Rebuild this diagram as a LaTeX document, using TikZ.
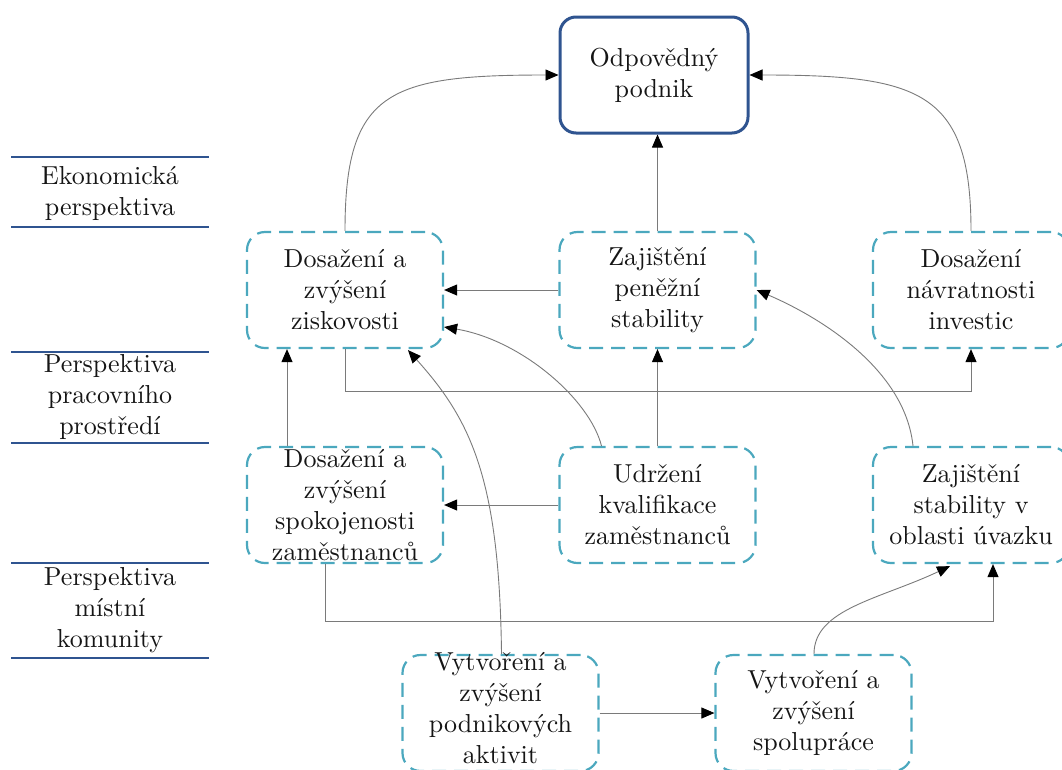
\documentclass[tikz,border=0pt]{standalone}
\usepackage{fontspec}
\setmainfont{lmroman10-regular}[Extension=.otf]
\usetikzlibrary{arrows.meta,calc}
\definecolor{dblue}{HTML}{2F5490}
\definecolor{tealc}{HTML}{4BA8BE}
\definecolor{connc}{HTML}{7A7A7A}
\definecolor{txtc}{HTML}{151515}
\begin{document}
\begin{tikzpicture}[x=1pt,y=-1pt,
  every node/.style={text=txtc, font=\fontsize{26}{31}\selectfont, align=center},
  goal/.style={draw=tealc, line width=2.2pt, dash pattern=on 14pt off 8pt,
    rounded corners=18pt, minimum width=196pt, minimum height=116pt, inner sep=0pt},
  topbox/.style={draw=dblue, line width=3pt, rounded corners=16pt,
    minimum width=188pt, minimum height=116pt, inner sep=0pt},
  conn/.style={draw=connc, line width=0.9pt, -{Triangle[length=13pt,width=11pt,color=black]}},
  lvl/.style={draw=dblue, line width=2.8pt},
  lab/.style={inner sep=0pt}]
\useasboundingbox (0,0) rectangle (1062,769);
\clip (0,0) rectangle (1062,769);

% level lines
\draw[lvl] (11,157) -- (209,157);
\draw[lvl] (11,227) -- (209,227);
\draw[lvl] (11,352) -- (209,352);
\draw[lvl] (11,443) -- (209,443);
\draw[lvl] (11,563) -- (209,563);
\draw[lvl] (11,658) -- (209,658);
\node[lab] (l1) at (110,193) {Ekonomická\\perspektiva};
\node[lab] (l2) at (110,397) {Perspektiva\\pracovního\\prostředí};
\node[lab] (l3) at (110,610) {Perspektiva\\místní\\komunity};

% nodes
\node[topbox] (top) at (654,75) {Odpovědný\\podnik};
\node[goal] (b1) at (345,290) {Dosažení a\\zvýšení\\ziskovosti};
\node[goal] (b2) at (657.5,290) {Zajištění\\peněžní\\stability};
\node[goal] (b3) at (971,290) {Dosažení\\návratnosti\\investic};
\node[goal] (b4) at (345,505) {Dosažení a\\zvýšení\\spokojenosti\\zaměstnanců};
\node[goal] (b5) at (657.5,505) {Udržení\\kvalifikace\\zaměstnanců};
\node[goal] (b6) at (971,505) {Zajištění\\stability v\\oblasti úvazku};
\node[goal] (b7) at (500.5,713) {};
\node[lab] (t7) at (500.5,708) {Vytvoření a\\zvýšení\\podnikových\\aktivit};
\node[goal] (b8) at (813.5,713) {Vytvoření a\\zvýšení\\spolupráce};

% connectors
\draw[conn] (b1.north) .. controls +(0,-140) and +(-170,0) .. (top.west);
\draw[conn] (b3.north) .. controls +(0,-140) and +(170,0) .. (top.east);
\draw[conn] (b2.north) -- (b2.north |- top.south);
\draw[conn] (b2.west) -- (b1.east);
\draw[conn] (b1.south) -- ++(0,42) -| (b3.south);
\draw[conn] ($(b4.north)+(-58,0)$) -- ($(b1.south)+(-58,0)$);
\draw[conn] ($(b5.north)+(-56,0)$) .. controls +(-12,-47) and +(77,13) .. ($(b1.east)+(0,37)$);
\draw[conn] (b5.north) -- (b2.south);
\draw[conn] ($(b6.north)+(-58,0)$) .. controls +(-8,-77) and +(63,27) .. (b2.east);
\draw[conn] (b5.west) -- (b4.east);
\draw[conn] ($(b4.south)+(-20,0)$) -- ++(0,57) -| ($(b6.south)+(22,0)$);
\draw[conn] ($(b7.north)+(1,0)$) .. controls +(-2,-175) and +(63,70) .. ($(b1.south)+(63,1)$);
\draw[conn] (b7.east) -- (b8.west);
\draw[conn] ($(b8.north)+(0.5,0)$) .. controls +(0,-45) and +(-70,33) .. ($(b6.south)+(-21,2)$);
\end{tikzpicture}
\end{document}
